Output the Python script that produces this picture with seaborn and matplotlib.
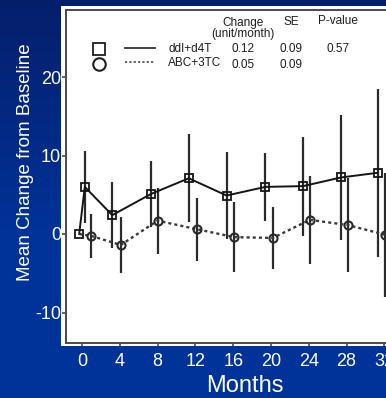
import numpy as np
import pandas as pd
import matplotlib
matplotlib.use("Agg")
import matplotlib.pyplot as plt
from matplotlib.lines import Line2D
from matplotlib.patches import Rectangle
import seaborn as sns

# ---------------- data ----------------
ddi_months = [-0.3, 0.3, 3.2, 7.3, 11.3, 15.3, 19.4, 23.4, 27.4, 31.3]
ddi_mean = [0.0, 6.0, 2.4, 5.1, 7.1, 4.9, 6.0, 6.1, 7.2, 7.8]
ddi_err = [0.0, 4.6, 4.2, 4.2, 5.6, 5.5, 4.3, 6.3, 8.0, 10.7]

abc_months = [-0.3, 1.0, 4.1, 8.0, 12.2, 16.1, 20.2, 24.1, 28.1, 32.1]
abc_mean = [0.0, -0.25, -1.4, 1.7, 0.6, -0.4, -0.5, 1.8, 1.15, -0.1]
abc_err = [0.0, 2.8, 3.6, 4.2, 4.0, 4.5, 3.9, 5.6, 6.0, 7.9]

x_ticks = [0, 4, 8, 12, 16, 20, 24, 28, 32]
y_ticks = [-10, 0, 10, 20]
y_tick_labels = ["-10", "0", "10", "20"]

groups = ["ddI+d4T", "ABC+3TC"]
slope_change = ["0.12", "0.05"]
slope_se = ["0.09", "0.09"]
p_value = ["0.57", ""]
table_header = ["Change\n(unit/month)", "SE", "P-value"]

x_label = "Months"
y_label = "Mean Change from Baseline"

# ---------------- figure ----------------
W, H = 386, 398
fig = plt.figure(figsize=(W / 100, H / 100), dpi=100)


def fx(px):
    return px / W


def fy(py):
    return 1 - py / H


# blue gradient background
bg = fig.add_axes([0, 0, 1, 1], zorder=-10)
top = np.array([0.02, 0.12, 0.42])
bot = np.array([0.0, 0.20, 0.60])
t = np.clip(np.linspace(0, 1, 200) / 0.6, 0, 1)[:, None]
grad = (top * (1 - t) + bot * t)[:, None, :]
bg.imshow(grad, aspect="auto", extent=[0, 1, 0, 1])
bg.set_axis_off()

# white scanned panel
fig.patches.append(Rectangle((fx(61), fy(345.5)), fx(386 - 61), (345.5 - 6) / H,
                             transform=fig.transFigure, facecolor="white",
                             edgecolor="none", zorder=-5))

ax = fig.add_axes([fx(66), fy(343), fx(386 - 66), (343 - 10) / H], zorder=1)
ax.set_facecolor("white")

df_ddi = pd.DataFrame({"month": ddi_months, "mean": ddi_mean})
df_abc = pd.DataFrame({"month": abc_months, "mean": abc_mean})

err_col = "#2b2b2b"
ax.vlines(np.array(ddi_months)[1:], (np.array(ddi_mean) - np.array(ddi_err))[1:],
          (np.array(ddi_mean) + np.array(ddi_err))[1:], color=err_col, lw=1.6, zorder=2)
ax.vlines(np.array(abc_months)[1:], (np.array(abc_mean) - np.array(abc_err))[1:],
          (np.array(abc_mean) + np.array(abc_err))[1:], color=err_col, lw=1.6, zorder=2)

sns.lineplot(data=df_ddi, x="month", y="mean", ax=ax, color="#151515", lw=1.4,
             marker="s", markersize=5.5, markerfacecolor="none",
             markeredgecolor="#151515", markeredgewidth=1.3, zorder=3)
sns.lineplot(data=df_abc, x="month", y="mean", ax=ax, color="#3a3a3a", lw=1.7,
             linestyle=(0, (1.3, 1.3)), marker="o", markersize=5.8,
             markerfacecolor="none", markeredgecolor="#2a2a2a", markeredgewidth=1.5,
             markevery=list(range(1, len(abc_months))), zorder=3)

ax.set_xlim((66 - 82) / 9.45, (386 - 82) / 9.45)
ax.set_ylim((234 - 343) / 7.85, (234 - 10) / 7.85)

for s in ["left", "top", "bottom"]:
    ax.spines[s].set_color("#4a4a4a")
    ax.spines[s].set_linewidth(1.4)
ax.spines["right"].set_visible(False)

ax.set_xticks(x_ticks)
ax.set_xticklabels([str(v) for v in x_ticks])
ax.set_yticks(y_ticks)
ax.set_yticklabels(y_tick_labels)
lab_font = "Liberation Sans"
ax.tick_params(axis="x", colors="#4a4a4a", labelcolor="white", length=2.5,
               width=1.2, pad=5, labelsize=13)
ax.tick_params(axis="y", colors="#4a4a4a", labelcolor="white", length=3,
               width=1.2, pad=0.5, labelsize=13)
for lbl in ax.get_xticklabels() + ax.get_yticklabels():
    lbl.set_fontfamily(lab_font)

ax.set_xlabel(x_label, color="white", fontsize=17, fontfamily=lab_font)
ax.set_ylabel(y_label, color="white", fontsize=13.5, fontfamily=lab_font)
ax.xaxis.set_label_coords((245 - 66) / 320, (343 - 375) / 333)
ax.yaxis.set_label_coords((34 - 66) / 320, (343 - 162.5) / 333)

# ---------------- legend / table ----------------
tfs = 8.5
ink = "#1e1e1e"
mk_handles = [
    Line2D([], [], ls="none", marker="s", ms=9, mfc="none", mec=ink, mew=1.3),
    Line2D([], [], ls="none", marker="o", ms=9, mfc="none", mec=ink, mew=1.5),
]
leg1 = ax.legend(mk_handles, ["", ""], loc="upper left",
                 bbox_to_anchor=(fx(92), fy(43)), bbox_transform=fig.transFigure,
                 frameon=False, borderpad=0, borderaxespad=0, handlelength=1.2,
                 handletextpad=0, labelspacing=0.15, fontsize=tfs)
ax.add_artist(leg1)
ln_handles = [
    Line2D([], [], color=ink, lw=1.2),
    Line2D([], [], color="#555555", lw=1.3, ls=(0, (1.2, 1.2))),
]
leg2 = ax.legend(ln_handles, groups, loc="upper left",
                 bbox_to_anchor=(fx(125), fy(43)), bbox_transform=fig.transFigure,
                 frameon=False, borderpad=0, borderaxespad=0, handlelength=2.55,
                 handletextpad=1.1, labelspacing=0.15,
                 prop={"size": tfs, "family": lab_font})
for tx in leg2.get_texts():
    tx.set_color(ink)

hdr_x = [243, 291, 338]
hdr_y = [28.5, 22, 21]
for hx, hy, htxt in zip(hdr_x, hdr_y, table_header):
    fig.text(fx(hx), fy(hy), htxt, ha="center", va="center", fontsize=tfs,
             color=ink, fontfamily=lab_font, linespacing=0.95)

row_y = [49.5, 65]
for i in range(2):
    for cx, val in zip(hdr_x, [slope_change[i], slope_se[i], p_value[i]]):
        if val:
            fig.text(fx(cx), fy(row_y[i]), val, ha="center", va="center",
                     fontsize=tfs, color=ink, fontfamily=lab_font)

fig.savefig("out.png", dpi=100)
